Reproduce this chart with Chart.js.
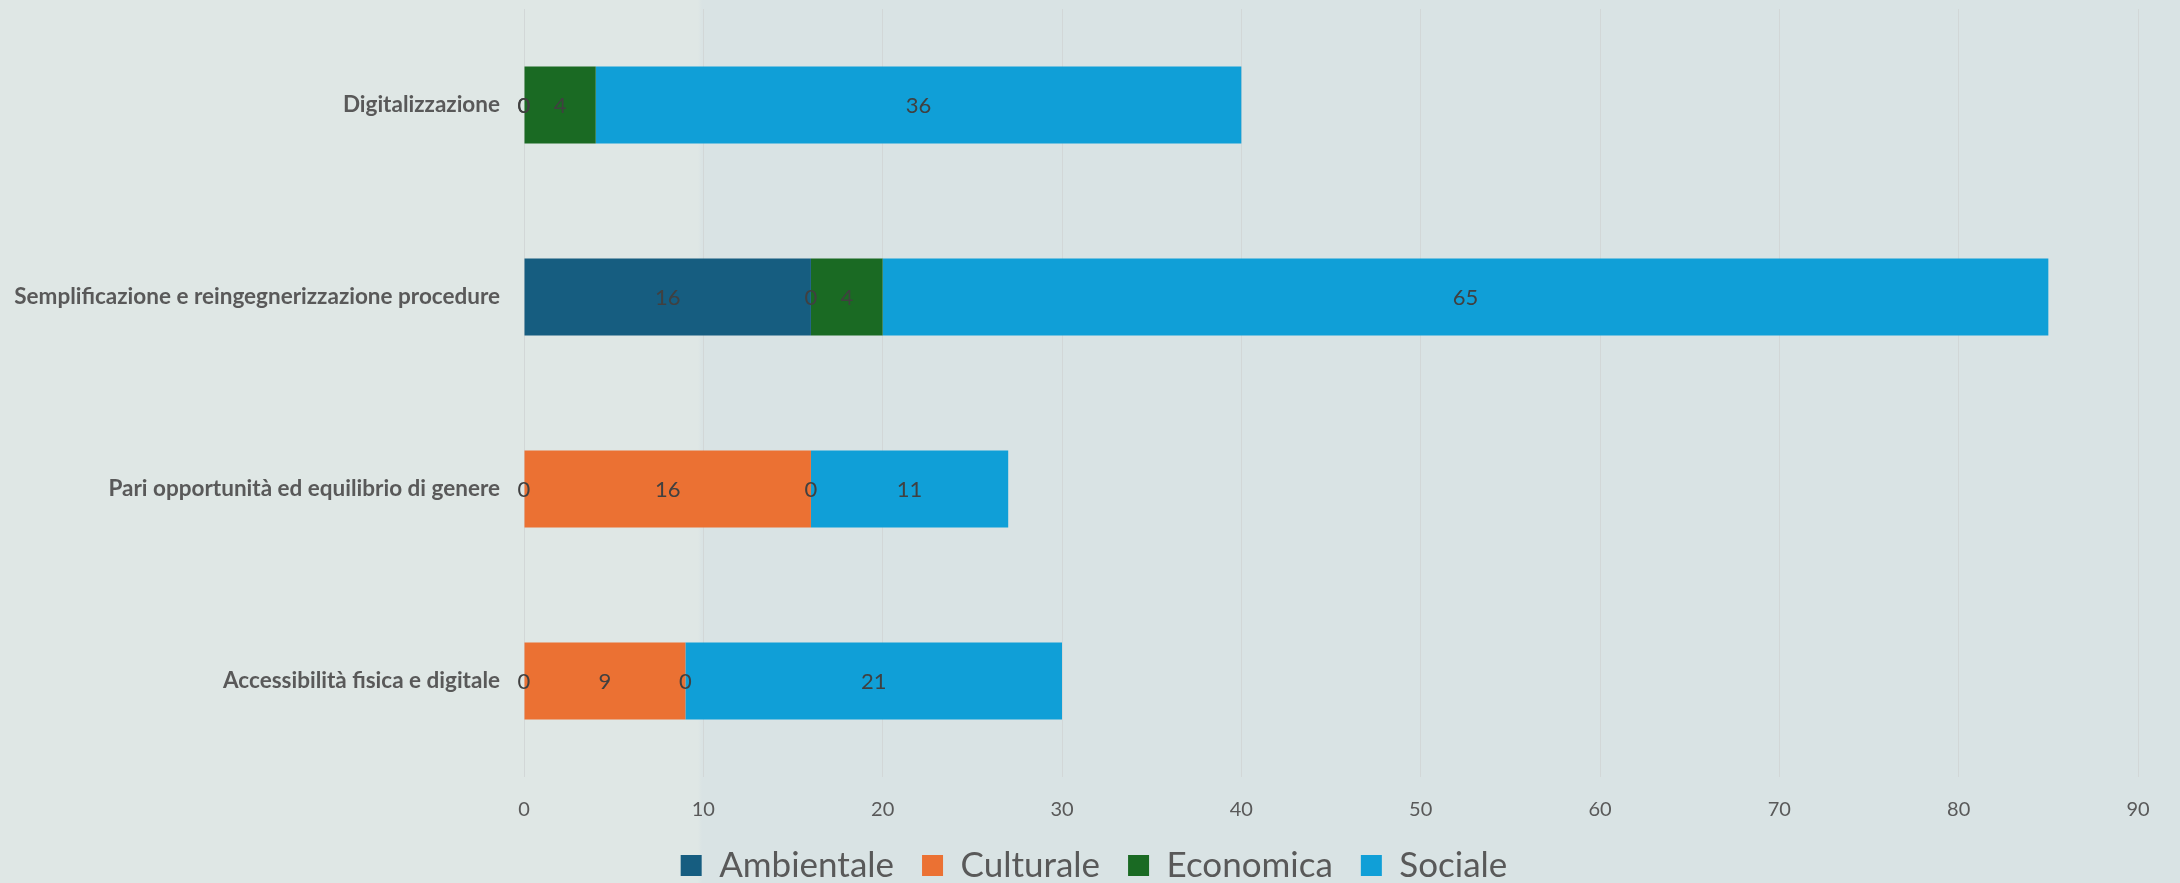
<!DOCTYPE html>
<html>
<head>
<meta charset="utf-8">
<script src="https://cdn.jsdelivr.net/npm/chart.js@4/dist/chart.umd.min.js"></script>
<style>
  html, body { margin: 0; padding: 0; overflow: hidden; }
  body {
    width: 2180px;
    height: 883px;
    background: linear-gradient(to right, #dfe7e5 0px, #dfe7e5 698px, #d9e3e4 702px, #d9e3e4 100%);
  }
  /* canvas runs 10px past the bottom edge so the legend sits as low as in the original */
  #wrap { width: 2180px; height: 883px; overflow: hidden; }
</style>
</head>
<body>
<div id="wrap"><canvas id="chart" width="2180" height="893"></canvas></div>
<script>
const categories = [
  'Digitalizzazione',
  'Semplificazione e reingegnerizzazione procedure',
  'Pari opportunità ed equilibrio di genere',
  'Accessibilità fisica e digitale'
];
const ambientale = [0, 16, 0, 0];
const culturale = [0, 0, 16, 9];
const economica = [4, 4, 0, 0];
const sociale = [36, 65, 11, 21];
const xTicks = [0, 10, 20, 30, 40, 50, 60, 70, 80, 90];

const FONT = 'Lato, "Open Sans", sans-serif';
const TEXT = '#595959';
const PAD_LEFT = 50;

// value labels centred in each segment (zeros included, like the original)
const segmentLabels = {
  id: 'segmentLabels',
  afterDatasetsDraw(chart) {
    const ctx = chart.ctx;
    ctx.save();
    ctx.font = '22px ' + FONT;
    ctx.fillStyle = '#404040';
    ctx.textAlign = 'center';
    ctx.textBaseline = 'middle';
    chart.data.datasets.forEach((ds, i) => {
      chart.getDatasetMeta(i).data.forEach((bar, j) => {
        const v = ds.data[j];
        if (v === null || v === undefined) return;
        const p = bar.getProps(['x', 'y', 'base'], true);
        ctx.fillText(String(v), (p.x + p.base) / 2, p.y + 1);
      });
    });
    ctx.restore();
  }
};

// left padding is only there to centre the legend; let the long category label use it
const widenLabelArea = {
  id: 'widenLabelArea',
  afterLayout(chart) { chart.scales.y.left = 0; }
};

function series(label, data, color) {
  return {
    label,
    data,
    backgroundColor: color,
    borderWidth: 0,
    categoryPercentage: 0.4,
    barPercentage: 1
  };
}

new Chart(document.getElementById('chart'), {
  type: 'bar',
  data: {
    labels: categories,
    datasets: [
      series('Ambientale', ambientale, '#165d80'),
      series('Culturale', culturale, '#eb7133'),
      series('Economica', economica, '#1a6a23'),
      series('Sociale', sociale, '#109fd7')
    ]
  },
  options: {
    indexAxis: 'y',
    responsive: false,
    animation: false,
    layout: { padding: { top: 9, right: 42, left: PAD_LEFT, bottom: 0 } },
    scales: {
      x: {
        stacked: true,
        min: xTicks[0],
        max: xTicks[xTicks.length - 1],
        afterBuildTicks: (axis) => { axis.ticks = xTicks.map(v => ({ value: v })); },
        afterFit: (axis) => { axis.height = 43; },
        border: { display: false },
        grid: { color: '#d2d7d7', lineWidth: 1, drawTicks: false },
        ticks: { color: TEXT, font: { family: FONT, size: 20 }, padding: 21 }
      },
      y: {
        stacked: true,
        afterFit: (axis) => {
          axis.width = 524 - PAD_LEFT;
          // the tick padding would otherwise push the plot down
          axis.paddingTop = 0;
          axis.paddingBottom = 0;
        },
        border: { display: false },
        grid: { display: false, drawTicks: false },
        ticks: { color: TEXT, font: { family: FONT, size: 22.5, weight: 'bold' }, padding: 24 }
      }
    },
    plugins: {
      legend: {
        position: 'bottom',
        labels: {
          color: TEXT,
          font: { family: FONT, size: 35 },
          boxWidth: 21,
          boxHeight: 21,
          padding: 28
        }
      },
      tooltip: { enabled: false }
    }
  },
  plugins: [segmentLabels, widenLabelArea]
});
</script>
</body>
</html>
